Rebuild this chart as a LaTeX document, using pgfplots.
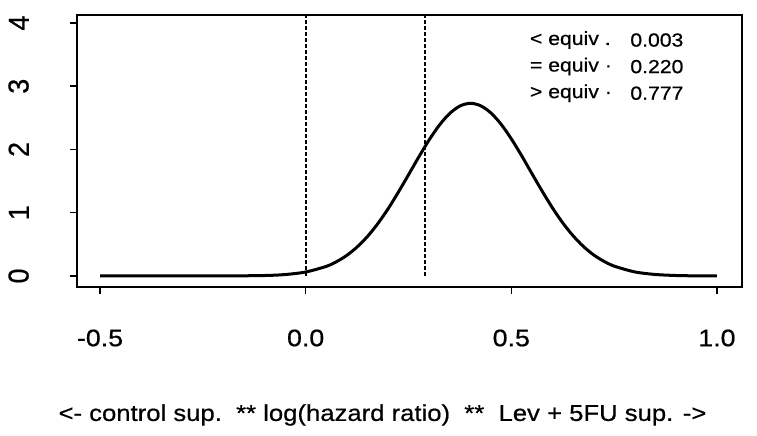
\documentclass[border=0pt]{standalone}
\usepackage{fontspec}
\setmainfont{Liberation Sans}[FakeStretch=1.12, FakeBold=0.6]
\newfontfamily\yfont{Liberation Sans}[FakeStretch=0.93, FakeBold=0.6]
\usepackage{pgfplots}
\pgfplotsset{compat=1.18}

\begin{document}
\begin{tikzpicture}
\begin{axis}[
    name=ax,
    scale only axis,
    width=665bp, height=272bp,
    xmin=-0.556, xmax=1.061,
    ymin=-0.174, ymax=4.126,
    axis line style={line width=1.8bp},
    xtick={-0.5,0,0.5,1},
    xticklabels={-0.5,0.0,0.5,1.0},
    ytick={0,1,2,3,4},
    yticklabels={0,1,2,3,4},
    tick align=outside,
    xtick pos=bottom, ytick pos=left,
    major tick length=7bp,
    tick style={line width=1.5bp, black},
    xticklabel style={font=\fontsize{24}{27}\selectfont},
    xticklabel shift=32bp,
    yticklabel style={rotate=90, anchor=south, inner sep=0pt, font=\yfont\fontsize{29}{32}\selectfont},
    yticklabel shift=41bp,
    xlabel={<- control sup.\ \ ** log(hazard ratio)\ \ **\ \ Lev + 5FU sup. ->},
    xlabel style={font=\fontsize{23}{26}\selectfont, at={(axis description cs:0.5,0)}, anchor=center, yshift=-128bp, xshift=-27bp},
    clip=false,
]
    % dashed reference lines at 0 and the equivalence bound
    \addplot[line width=2.2bp, dash pattern=on 3.5bp off 2.5bp] coordinates {(0,0) (0,4.126)};
    \addplot[line width=2.2bp, dash pattern=on 3.5bp off 2.5bp] coordinates {(0.29,0) (0.29,4.126)};

    \addplot[line width=3bp, smooth, tension=0.5] coordinates {
        (-0.5,0) (-0.3,0) (-0.2,0.0006) (-0.1,0.0076) (-0.05,0.023)
        (0,0.063) (0.05,0.152) (0.075,0.226) (0.1,0.326) (0.125,0.458)
        (0.15,0.623) (0.175,0.824) (0.2,1.058) (0.225,1.321) (0.25,1.599)
        (0.275,1.881) (0.3,2.149) (0.325,2.384) (0.35,2.568) (0.375,2.687)
        (0.4,2.73) (0.425,2.693) (0.45,2.580) (0.475,2.401) (0.5,2.169)
        (0.525,1.904) (0.55,1.621) (0.575,1.342) (0.6,1.078) (0.625,0.841)
        (0.65,0.638) (0.675,0.469) (0.7,0.335) (0.725,0.233) (0.75,0.157)
        (0.8,0.065) (0.85,0.024) (0.9,0.008) (0.95,0.002) (1.0,0)
    };

    \node[anchor=west, font=\fontsize{19}{22}\selectfont, inner sep=0pt] at (axis cs:0.545,3.73) {< equiv .};
    \node[anchor=west, font=\fontsize{19}{22}\selectfont, inner sep=0pt] at (axis cs:0.545,3.31) {= equiv ·};
    \node[anchor=west, font=\fontsize{19}{22}\selectfont, inner sep=0pt] at (axis cs:0.545,2.89) {> equiv ·};
    \node[anchor=west, font=\fontsize{19}{22}\selectfont, inner sep=0pt] at (axis cs:0.789,3.73) {0.003};
    \node[anchor=west, font=\fontsize{19}{22}\selectfont, inner sep=0pt] at (axis cs:0.789,3.31) {0.220};
    \node[anchor=west, font=\fontsize{19}{22}\selectfont, inner sep=0pt] at (axis cs:0.789,2.89) {0.777};
\end{axis}
\path (ax.south west) ++(-77bp,-149bp) rectangle ++(757bp,436bp);
\end{tikzpicture}
\end{document}
